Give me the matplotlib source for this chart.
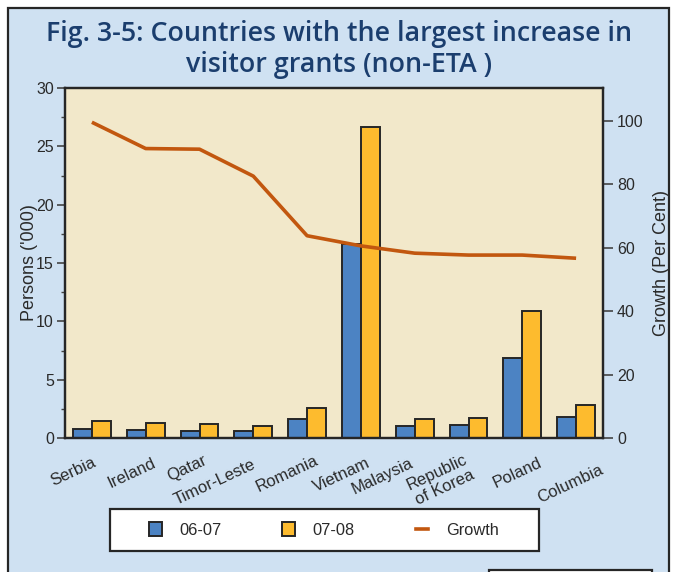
"""Visitor grants (non-ETA): countries with the largest increase, 06-07 vs 07-08."""
import matplotlib
matplotlib.use("Agg")
import matplotlib.pyplot as plt
from matplotlib.lines import Line2D
from matplotlib.patches import Patch, Rectangle
from matplotlib.ticker import MultipleLocator
import numpy as np

COUNTRIES = ["Serbia", "Ireland", "Qatar", "Timor-Leste", "Romania", "Vietnam",
             "Malaysia", "Republic\nof Korea", "Poland", "Columbia"]
GRANTS_0607 = [0.75, 0.68, 0.60, 0.57, 1.60, 16.6, 1.03, 1.10, 6.88, 1.80]
GRANTS_0708 = [1.48, 1.30, 1.20, 1.05, 2.60, 26.7, 1.60, 1.68, 10.9, 2.80]
GROWTH = [99.6, 91.3, 91.1, 82.6, 63.8, 60.6, 58.3, 57.7, 57.7, 56.7]

BLUE = "#4C83C3"
YELLOW = "#FDBB2E"
ORANGE = "#C2570F"
CREAM = "#F2E8CA"
PANEL = "#CFE1F2"
EDGE = "#262626"
TITLE_BLUE = "#1B3E6E"
TEXT = "#2a2a2a"

# per-label nudges (pixels) for the slanted country names
LABEL_DX = [0, 6, 3, -2, 7, 5, -5, -5, 16, 23]
LABEL_DY = [-17, -17, -15, -19, -15, -17, -17, -14, -17, -24]

plt.rcParams["font.family"] = ["Liberation Sans", "DejaVu Sans"]

W, H = 674, 572
fig = plt.figure(figsize=(W / 100, H / 100), dpi=100)
fig.patch.set_facecolor("white")


def px(x0, y0, w, h):
    # pixel box (top-left origin) -> figure fraction
    return (x0 / W, 1 - (y0 + h) / H, w / W, h / H)


def box(x0, y0, w, h, face, z):
    r = Rectangle(px(x0, y0, w, h)[:2], w / W, h / H, transform=fig.transFigure,
                  facecolor=face, edgecolor=EDGE, lw=1.6, zorder=z)
    fig.patches.append(r)


# light blue panel behind everything, plus the top of the next box below it
box(8, 8, 661, 600, PANEL, -2)
box(489, 570, 163, 20, "white", -1)

fig.text(339 / W, 1 - 34 / H, "Fig. 3-5: Countries with the largest increase in",
         ha="center", va="center", fontsize=19.3, fontweight="semibold",
         family="Open Sans", color=TITLE_BLUE)
fig.text(339 / W, 1 - 65 / H, "visitor grants (non-ETA )",
         ha="center", va="center", fontsize=19.3, fontweight="semibold",
         family="Open Sans", color=TITLE_BLUE)

ax = fig.add_axes(px(65, 88, 538, 350))
ax.set_facecolor(CREAM)
x = np.arange(len(COUNTRIES))
bw = 0.35
ax.bar(x - bw / 2, GRANTS_0607, bw, color=BLUE, edgecolor=EDGE, linewidth=1.4)
ax.bar(x + bw / 2, GRANTS_0708, bw, color=YELLOW, edgecolor=EDGE, linewidth=1.4)
ax.set_xlim(-0.5, len(COUNTRIES) - 0.5)
ax.set_ylim(0, 30)
ax.yaxis.set_major_locator(MultipleLocator(5))
ax.yaxis.set_minor_locator(MultipleLocator(2.5))
ax.tick_params(axis="y", which="major", length=6, width=1.2, color="#444",
               labelsize=11.5, pad=2, labelcolor=TEXT)
ax.tick_params(axis="y", which="minor", length=3, width=1, color="#444")
ax.set_xticks(x)
ax.set_xticklabels([])
ax.tick_params(axis="x", length=0)
for s in ax.spines.values():
    s.set_linewidth(1.6)
    s.set_color(EDGE)
ax.set_ylabel("Persons ('000)", fontsize=13, color=TEXT, labelpad=-1)

for i, name in enumerate(COUNTRIES):
    ax.annotate(name, xy=(i, 0), xycoords=("data", "axes fraction"),
                xytext=(LABEL_DX[i], LABEL_DY[i]), textcoords="offset pixels",
                rotation=25, rotation_mode="anchor", ha="right", va="top",
                multialignment="right", fontsize=12, color=TEXT,
                linespacing=1.15)

ax2 = ax.twinx()
ax2.plot(x, GROWTH, color=ORANGE, lw=2.6, solid_capstyle="butt")
ax2.set_ylim(0, 110.4)
ax2.set_yticks([0, 20, 40, 60, 80, 100])
ax2.tick_params(axis="y", length=7, width=1.2, color="#444", labelsize=11.5,
                pad=3, labelcolor=TEXT)
for s in ax2.spines.values():
    s.set_linewidth(1.6)
    s.set_color(EDGE)
ax2.set_ylabel("Growth (Per Cent)", fontsize=13, color=TEXT, labelpad=7)

# legend in its own white box
box(110, 509, 429, 42, "white", 1)
handles = [
    Patch(facecolor=BLUE, edgecolor=EDGE, linewidth=1.4, label="06-07"),
    Patch(facecolor=YELLOW, edgecolor=EDGE, linewidth=1.4, label="07-08"),
    Line2D([0], [0], color=ORANGE, lw=2.6, label="Growth"),
]
fig.legend(handles=handles, loc="center", bbox_to_anchor=(324 / W, 1 - 530 / H),
           ncol=3, frameon=False, fontsize=11.8, handlelength=0.75,
           handleheight=0.9, handletextpad=1.1, columnspacing=3.7,
           labelcolor=TEXT)

fig.savefig("out.png", dpi=100, facecolor=fig.get_facecolor())
